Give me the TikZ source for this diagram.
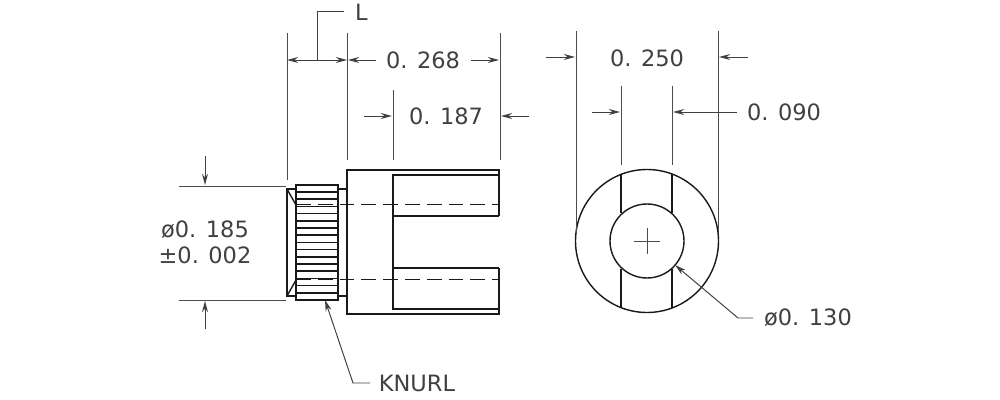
\documentclass[tikz,border=0pt]{standalone}
\usepackage{fontspec}
\setmainfont{DejaVu Sans}
\usepackage{tikz}
\usetikzlibrary{arrows.meta, positioning}

\begin{document}
\begin{tikzpicture}[
  x=0.025cm, y=-0.025cm,
  every node/.style={font=\fontsize{16}{18}\selectfont, text=black!75, inner sep=0pt},
  part/.style={line width=1pt, black!90},
  extline/.style={line width=0.7pt, black!70},
  hidden/.style={line width=1pt, black!90, dash pattern=on 10.5pt off 5pt},
  arrow/.style={line width=0.7pt, black!75, -{Stealth[length=2.8mm, width=1.5mm]}},
  leader/.style={line width=0.7pt, black!75}
]
\useasboundingbox (0,0) rectangle (1000,400);

% Side view, body
\draw[part] (499,216) -- (499,170) -- (347,170) -- (347,314) -- (499,314) -- (499,268);
\draw[part] (499,175) -- (393,175) -- (393,309) -- (499,309);
\draw[part] (393,216) -- (499,216);
\draw[part] (393,268) -- (499,268);

% Collars and chamfer
\draw[part] (296,189) -- (287,189) -- (287,296) -- (296,296);
\draw[part] (287,189) -- (296,205);
\draw[part] (287,296) -- (296,280);
\draw[part] (338,189) -- (347,189);
\draw[part] (338,296) -- (347,296);

% Knurl
\draw[part] (296,185) rectangle (338,300);
\foreach \i in {0,...,14}
  \draw[part] (296,{192+\i*7.2}) -- (338,{192+\i*7.2});

% Hidden lines
\draw[hidden] (296,204.5) -- (499,204.5);
\draw[hidden] (296,279.5) -- (499,279.5);

% End view
\draw[part] (647,241) circle (71.5);
\draw[part] (647,241) circle (37);
\draw[part] (621,{241-66.6}) -- (621,{241-27.6});
\draw[part] (672,{241-66.6}) -- (672,{241-27.6});
\draw[part] (621,{241+66.6}) -- (621,{241+27.6});
\draw[part] (672,{241+66.6}) -- (672,{241+27.6});
\draw[extline] (634,241) -- (660,241);
\draw[extline] (647,228) -- (647,254);

% Extension lines
\draw[extline] (287,33) -- (287,180);
\draw[extline] (347,33) -- (347,160);
\draw[extline] (393,90) -- (393,160);
\draw[extline] (500,33) -- (500,160);
\draw[extline] (576,31) -- (576,232);
\draw[extline] (718,31) -- (718,232);
\draw[extline] (621,86) -- (621,165);
\draw[extline] (672,86) -- (672,165);
\draw[extline] (179,186) -- (286,186);
\draw[extline] (179,300) -- (286,300);

% Labels
\node (lenL) at (361.5,12) {L};
\node (len268) at (423,60) {0. 268};
\node (len187) at (446,116) {0. 187};
\node (len250) at (647,58) {0. 250};
\node (len090) at (784,112) {0. 090};
\node (dia185) at (205,230) {ø0. 185};
\node (tol002) at (205,255) {±0. 002};
\node (dia130) at (808,318) {ø0. 130};
\node (knurl) at (417,383) {KNURL};

% Arrow ends
\coordinate (a1) at (287,60);
\coordinate (a2) at (347,60);
\coordinate (a3) at (317,60);
\coordinate (a4) at (344,11);
\coordinate (b1) at (376,60);
\coordinate (b2) at (348,60);
\coordinate (b3) at (471,60);
\coordinate (b4) at (499,60);
\coordinate (c1) at (364,116);
\coordinate (c2) at (392,116);
\coordinate (c3) at (529,116);
\coordinate (c4) at (501,116);
\coordinate (d1) at (546,57);
\coordinate (d2) at (575,57);
\coordinate (d3) at (748,57);
\coordinate (d4) at (719,57);
\coordinate (e1) at (592,112);
\coordinate (e2) at (620,112);
\coordinate (e3) at (737,112);
\coordinate (e4) at (673,112);
\coordinate (f1) at (205,156);
\coordinate (f2) at (205,185);
\coordinate (f3) at (205,329);
\coordinate (f4) at (205,301);
\coordinate (g1) at (753,318);
\coordinate (g2) at (738,318);
\coordinate (g3) at (675,265);
\coordinate (h1) at (370,383);
\coordinate (h2) at (353,383);
\coordinate (h3) at (325,300);

% Dimension arrows
\draw[arrow] (a3) -- (a1);
\draw[arrow] (a3) -- (a2);
\draw[leader] (a3) |- (a4);
\draw[arrow] (b1) -- (b2);
\draw[arrow] (b3) -- (b4);
\draw[arrow] (c1) -- (c2);
\draw[arrow] (c3) -- (c4);
\draw[arrow] (d1) -- (d2);
\draw[arrow] (d3) -- (d4);
\draw[arrow] (e1) -- (e2);
\draw[arrow] (e3) -- (e4);
\draw[arrow] (f1) -- (f2);
\draw[arrow] (f3) -- (f4);

% Leaders
\draw[arrow] (g1) -- (g2) -- (g3);
\draw[arrow] (h1) -- (h2) -- (h3);

\end{tikzpicture}
\end{document}
